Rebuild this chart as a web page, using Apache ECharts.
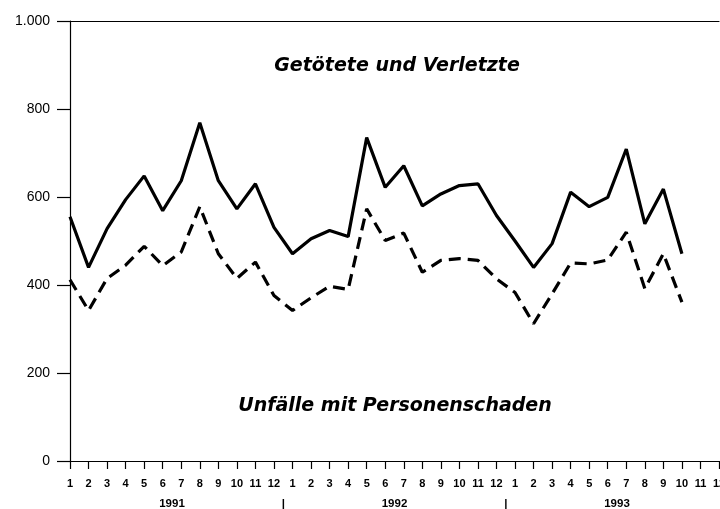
<!DOCTYPE html>
<html>
<head>
<meta charset="utf-8">
<script src="https://cdn.jsdelivr.net/npm/echarts@6/dist/echarts.min.js"></script>
<style>
html,body{margin:0;padding:0;background:#fff;overflow:hidden;}
#chart{width:720px;height:509px;}
</style>
</head>
<body>
<div id="chart"></div>
<script>
// Monthly tick labels (Jan 1991 .. Dec 1993)
const monthLabels = ['1','2','3','4','5','6','7','8','9','10','11','12',
                     '1','2','3','4','5','6','7','8','9','10','11','12',
                     '1','2','3','4','5','6','7','8','9','10','11','12'];
const years = ['1991','1992','1993'];
const yTicks = [0, 200, 400, 600, 800, 1000];

// Getötete und Verletzte (1/1991 .. 10/1993)
const getoeteteVerletzte = [555, 440, 528, 594, 648, 569, 637, 769, 637, 573, 630, 531,
                            471, 505, 524, 510, 735, 622, 671, 580, 607, 626, 630, 558,
                            500, 440, 494, 611, 578, 599, 709, 539, 618, 471];
// Unfälle mit Personenschaden
const unfaelle = [412, 342, 415, 445, 488, 444, 475, 578, 471, 415, 452, 376,
                  342, 371, 397, 390, 573, 501, 518, 429, 456, 460, 456, 414,
                  383, 312, 380, 450, 448, 457, 520, 392, 471, 361];

const labelGetoetete = 'Getötete und Verletzte';
const labelUnfaelle = 'Unfälle mit Personenschaden';

const chart = echarts.init(document.getElementById('chart'));
const FONT = 'Liberation Sans, Arial, sans-serif';

function deFmt(v){
  return String(v).replace(/\B(?=(\d{3})+(?!\d))/g, '.');
}

function yearLabel(v){
  for (let i = 0; i < years.length; i++) {
    if (Math.abs(v - (i*12 + 5.5)) < 1e-6) return years[i];
    if (i < years.length - 1 && Math.abs(v - ((i+1)*12 - 0.5)) < 1e-6) return '|';
  }
  return '';
}

const option = {
  backgroundColor: '#fff',
  animation: false,
  grid: { left: 70, right: 1, top: 21, bottom: 48, containLabel: false, outerBoundsMode: 'none' },
  xAxis: [
    {
      type: 'category',
      data: monthLabels,
      boundaryGap: false,
      position: 'bottom',
      axisLine: { show: true, lineStyle: { color: '#000', width: 1.2 } },
      axisTick: { show: true, interval: 0, length: 8, inside: false, lineStyle: { color: '#000', width: 1.2 } },
      axisLabel: { interval: 0, margin: 17, color: '#000', fontSize: 11, fontWeight: 'bold', fontFamily: FONT },
      splitLine: { show: false }
    },
    {
      type: 'value',
      position: 'bottom',
      min: 0, max: monthLabels.length - 1, interval: 0.5,
      axisLine: { show: false },
      axisTick: { show: false },
      splitLine: { show: false },
      axisLabel: { margin: 37, color: '#000', fontSize: 11.5, fontWeight: 'bold', fontFamily: FONT,
                   formatter: yearLabel, showMinLabel: true, showMaxLabel: true }
    },
    {
      type: 'value',
      position: 'top',
      min: 0, max: 1,
      axisLine: { show: true, lineStyle: { color: '#000', width: 1.2 } },
      axisTick: { show: false },
      axisLabel: { show: false },
      splitLine: { show: false }
    }
  ],
  yAxis: {
    type: 'value',
    min: yTicks[0], max: yTicks[yTicks.length-1], interval: 200,
    axisLine: { show: true, lineStyle: { color: '#000', width: 1.2 } },
    axisTick: { show: true, length: 13, lineStyle: { color: '#000', width: 1.2 } },
    axisLabel: { margin: 20, color: '#000', fontSize: 14, fontFamily: FONT, formatter: deFmt },
    splitLine: { show: false }
  },
  series: [
    {
      name: labelGetoetete,
      type: 'line',
      data: getoeteteVerletzte,
      symbol: 'none',
      lineStyle: { color: '#000', width: 3.2, type: 'solid' },
      z: 3
    },
    {
      name: labelUnfaelle,
      type: 'line',
      data: unfaelle,
      symbol: 'none',
      lineStyle: { color: '#000', width: 3.2, type: [12, 7] },
      z: 3
    }
  ],
  graphic: [
    { type: 'text', x: 397, y: 66,
      style: { text: labelGetoetete, font: 'italic bold 19px "DejaVu Sans"', fill: '#000',
               textAlign: 'center', textVerticalAlign: 'middle' } },
    { type: 'text', x: 395, y: 406,
      style: { text: labelUnfaelle, font: 'italic bold 19px "DejaVu Sans"', fill: '#000',
               textAlign: 'center', textVerticalAlign: 'middle' } }
  ]
};
chart.setOption(option);
</script>
</body>
</html>
